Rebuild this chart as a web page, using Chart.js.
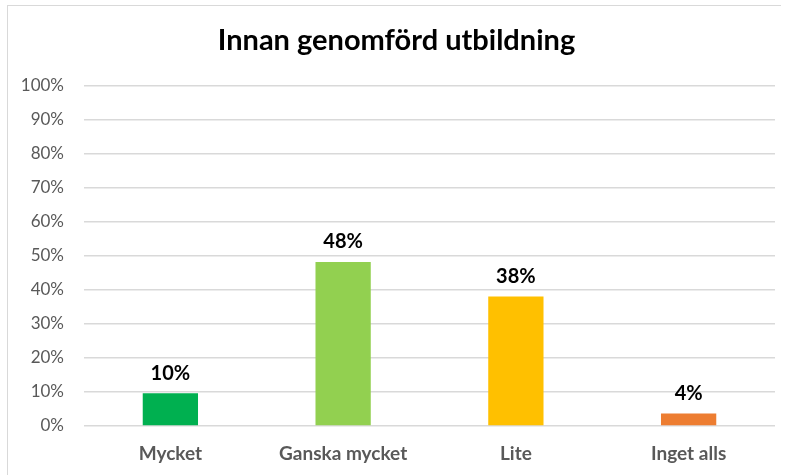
<!DOCTYPE html>
<html>
<head>
<meta charset="utf-8">
<script src="https://cdn.jsdelivr.net/npm/chart.js@4.4.0/dist/chart.umd.min.js"></script>
<style>
  html, body { margin: 0; padding: 0; background: #fff; }
  #wrap {
    position: absolute; left: 7px; top: 5px; width: 774px; height: 470px;
    border: 1px solid #d9d9d9; border-right: none; border-bottom: none; box-sizing: border-box;
  }
  canvas { display: block; }
</style>
</head>
<body>
<div id="wrap"><canvas id="chart" width="773" height="469"></canvas></div>
<script>
/* ================= DATA ================= */
const categories = ["Mycket", "Ganska mycket", "Lite", "Inget alls"];
const values = [9.6, 48.2, 38.1, 3.7];
const valueLabels = ["10%", "48%", "38%", "4%"];
const barColors = ["#00B050", "#92D050", "#FFC000", "#ED7D31"];

const FONT = "Lato, 'Open Sans', sans-serif";

/* ================= LABELS ================= */
const dataLabels = {
  id: "dataLabels",
  afterDatasetsDraw(chart) {
    const ctx = chart.ctx;
    const meta = chart.getDatasetMeta(0);
    ctx.save();
    ctx.font = "bold 20px " + FONT;
    ctx.fillStyle = "#000";
    ctx.textAlign = "center";
    ctx.textBaseline = "bottom";
    meta.data.forEach((bar, i) => {
      ctx.fillText(valueLabels[i], bar.x, bar.y - 10);
    });
    ctx.restore();
  }
};

/* ================= CHART ================= */
new Chart(document.getElementById("chart"), {
  type: "bar",
  data: {
    labels: categories,
    datasets: [{
      data: values,
      backgroundColor: barColors,
      barPercentage: 0.32,
      categoryPercentage: 1
    }]
  },
  options: {
    responsive: false,
    animation: false,
    layout: { padding: { left: 10, right: 6, top: 0, bottom: 0 } },
    plugins: {
      legend: { display: false },
      tooltip: { enabled: false },
      title: {
        display: true,
        text: "Innan genomförd utbildning",
        color: "#000",
        font: { family: FONT, size: 29, weight: "bold" },
        padding: { top: 17, bottom: 28 }
      }
    },
    scales: {
      x: {
        afterFit(scale) { scale.height = 49; },
        grid: { display: false, drawTicks: false },
        border: { display: false },
        ticks: {
          color: "#595959",
          font: { family: FONT, size: 19, weight: "bold" },
          padding: 16
        }
      },
      y: {
        min: 0,
        max: 100,
        afterFit(scale) { scale.width = 66; },
        grid: { color: "#d9d9d9", lineWidth: 1.5, drawTicks: false },
        border: { display: false },
        ticks: {
          stepSize: 10,
          color: "#595959",
          font: { family: FONT, size: 17 },
          padding: 20,
          callback: v => v + "%"
        }
      }
    }
  },
  plugins: [dataLabels]
});
</script>
</body>
</html>
